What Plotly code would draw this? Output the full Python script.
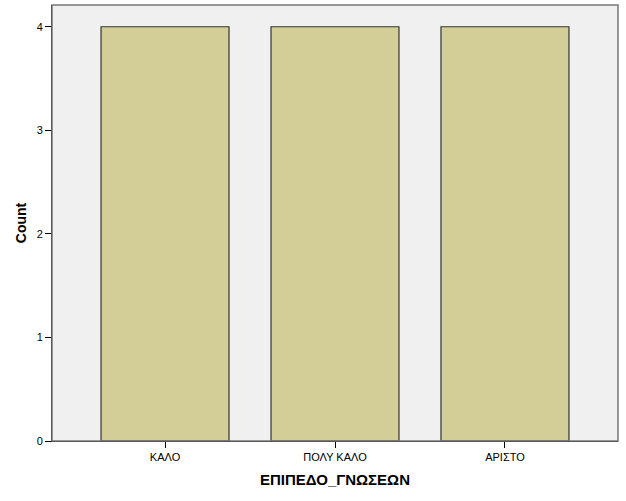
import plotly.graph_objects as go

categories = ["ΚΑΛΟ", "ΠΟΛΥ ΚΑΛΟ", "ΑΡΙΣΤΟ"]
counts = [4, 4, 4]
y_ticks = [0, 1, 2, 3, 4]

fig = go.Figure()
fig.add_trace(go.Bar(
    x=categories, y=counts, width=0.753,
    marker=dict(color="#D3CE97", line=dict(color="#333333", width=1.2)),
))

fig.update_layout(
    width=626, height=501,
    margin=dict(l=52, r=8, t=5, b=60),
    paper_bgcolor="white", plot_bgcolor="#F0F0F0",
    font=dict(family="Liberation Sans, Arial, sans-serif", color="black", size=11),
    showlegend=False,
    shapes=[dict(type="rect", xref="paper", yref="paper", x0=0, y0=0, x1=1, y1=1,
                 line=dict(color="#777777", width=1.5), layer="above")],
)
fig.update_xaxes(
    range=[-0.665, 2.665], showgrid=False, showline=True, linecolor="black", linewidth=1,
    ticks="outside", ticklen=6, tickcolor="black",
    title=dict(text="<b>ΕΠΙΠΕΔΟ_ΓΝΩΣΕΩΝ</b>", font=dict(size=15), standoff=12),
)
fig.update_yaxes(
    range=[0, 4.21], tickvals=y_ticks, showgrid=False, zeroline=False,
    showline=True, linecolor="black", linewidth=1,
    ticks="outside", ticklen=6, tickcolor="black",
    title=dict(text="<b>Count</b>", font=dict(size=14), standoff=6),
)

fig.write_html("out.html", config={"displayModeBar": False},
               post_script="document.body.style.margin='0';")
